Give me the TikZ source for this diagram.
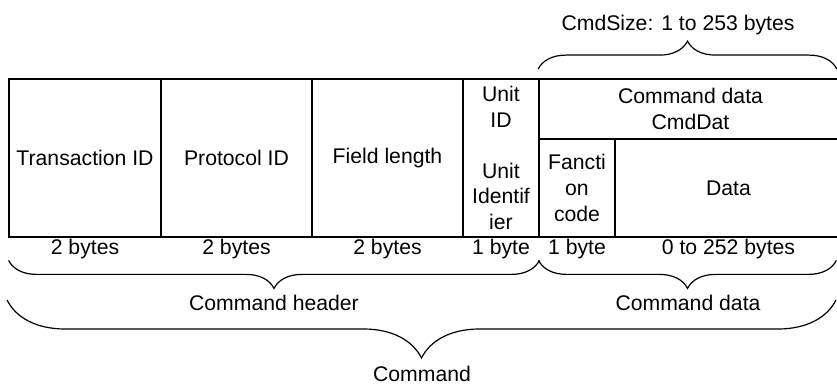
\documentclass[tikz,border=0pt]{standalone}
\usepackage{fontspec}
\setmainfont{Liberation Sans}
\usetikzlibrary{decorations.pathreplacing}

\begin{document}
\begin{tikzpicture}[
  x=0.5pt, y=-0.5pt,
  every node/.style={font=\fontsize{10.6}{12.8}\selectfont, inner sep=0pt, align=center},
  cell/.style={rectangle, draw, line width=0.9pt, minimum height=79pt},
  sizelbl/.style={rectangle, minimum height=11pt},
  brc/.style={decorate, line width=0.6pt,
    decoration={brace, mirror, amplitude=#1}},
  upbrc/.style={decorate, line width=0.6pt,
    decoration={brace, amplitude=#1}}
]
\useasboundingbox (0,0) rectangle (837,385);

% Header fields
\node[cell, minimum width=76pt] (trans) at (85,158) {Transaction ID};
\node[cell, minimum width=75.5pt] (proto) at (236.5,158) {Protocol ID};
\node[cell, minimum width=75.5pt] (field) at (387.5,158) {Field length};
\node[cell, minimum width=38pt] (unit) at (501,158) {Unit\\ID\\[\baselineskip]Unit\\Identif\\ier};

% Command data fields
\node[cell, minimum width=151.5pt, minimum height=30pt] (cmddat) at (690.5,109) {Command data\\CmdDat};
\node[cell, minimum width=38pt, minimum height=49pt] (fcode) at (577,188) {Fancti\\on\\code};
\node[cell, minimum width=113.5pt, minimum height=49pt] (data) at (728.5,188) {Data};

% Sizes below the fields
\node[sizelbl, minimum width=76pt] (b1) at (85,249) {2 bytes};
\node[sizelbl, minimum width=75.5pt] (b2) at (236.5,249) {2 bytes};
\node[sizelbl, minimum width=75.5pt] (b3) at (387.5,249) {2 bytes};
\node[sizelbl, minimum width=38pt] (b4) at (501,249) {1 byte};
\node[sizelbl, minimum width=38pt] (b5) at (577,249) {1 byte};
\node[sizelbl, minimum width=113.5pt] (b6) at (728.5,249) {0 to 252 bytes};

% CmdSize brace on top
\node (cmdsize) at (678,25) {CmdSize: 1 to 253 bytes};
\draw[upbrc=14pt] ([yshift=4.5pt]cmddat.north west) -- ([yshift=4.5pt,xshift=-3pt]cmddat.north east);

% Header / data braces
\node (hdr) at (274,303) {Command header};
\node (dat) at (688,303) {Command data};
\draw[brc=14pt] (b1.south west) -- (b4.south east);
\draw[brc=14pt] (b5.south west) -- ([xshift=-3pt]b6.south east);

% Whole command
\coordinate (cmdL) at (7,300);
\coordinate (cmdR) at (836,300);
\node (cmd) at (422,374) {Command};
\draw[brc=29pt] (cmdL) -- (cmdR);

\end{tikzpicture}
\end{document}
